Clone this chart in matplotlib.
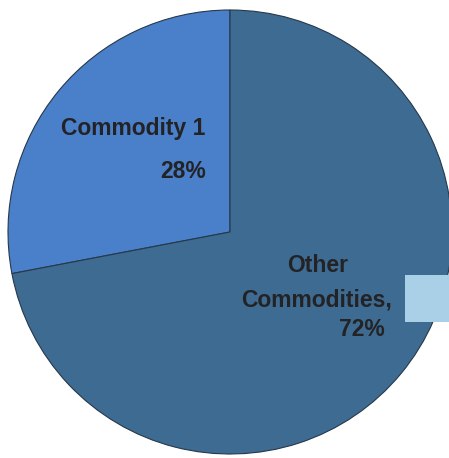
import matplotlib.pyplot as plt
from matplotlib.patches import Rectangle

labels = ['Commodity 1', 'Other Commodities']
shares = [28, 72]
colors = ['#4a7fc9', '#3e6b92']

W, H = 449, 458
fig = plt.figure(figsize=(W / 100, H / 100), dpi=100)
ax = fig.add_axes([0, 0, 1, 1])

ax.pie(shares, colors=colors, startangle=90, counterclock=True,
       center=(230, H - 232), radius=222, frame=True,
       wedgeprops=dict(edgecolor='#26384a', linewidth=0.8))
ax.set_xlim(0, W)
ax.set_ylim(0, H)
ax.set_aspect('equal')
ax.axis('off')

# light blue block cut by the right edge
ax.add_patch(Rectangle((405, H - 322), 50, 47, facecolor='#a9d0e6', edgecolor='none'))

txt = dict(fontfamily='Liberation Sans', fontweight='bold', fontsize=16.5, color='#232326')
ax.text(133, H - 128, 'Commodity 1', ha='center', va='center', **txt)
ax.text(206, H - 172, '%d%%' % shares[0], ha='right', va='center', **txt)
ax.text(318, H - 265, 'Other', ha='center', va='center', **txt)
ax.text(317, H - 300, 'Commodities,', ha='center', va='center', **txt)
ax.text(362, H - 329, '%d%%' % shares[1], ha='center', va='center', **txt)

fig.savefig('out.png', dpi=100)
